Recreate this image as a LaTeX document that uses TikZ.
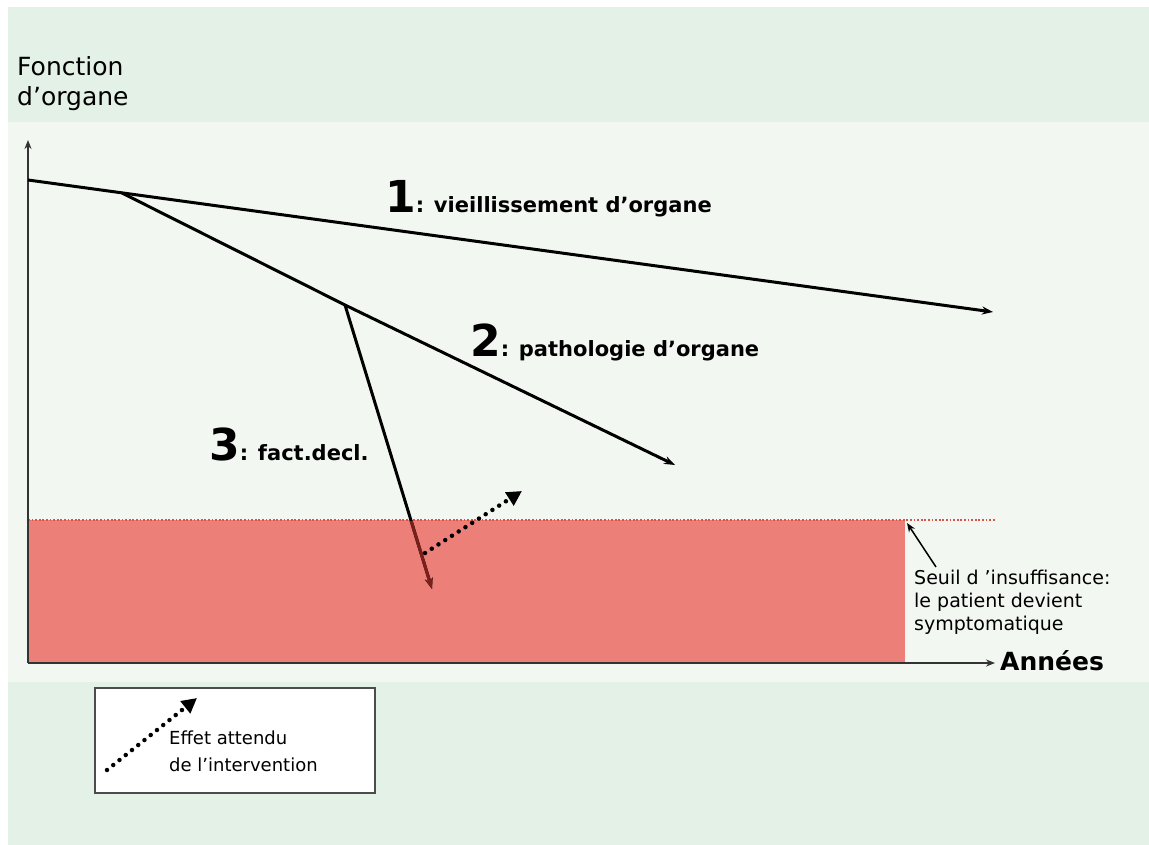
\documentclass[tikz,border=0pt]{standalone}
\usepackage{fontspec}
\setmainfont{DejaVu Sans}
\usetikzlibrary{arrows.meta}
\definecolor{bandgreen}{HTML}{E4F1E6}
\definecolor{panelgreen}{HTML}{F3F7F1}
\definecolor{seuilred}{HTML}{EC8079}
\definecolor{seuildot}{HTML}{D9534B}
\definecolor{darkline}{HTML}{7A1F1A}
\tikzset{
  courbe/.style={line width=3pt,-{Stealth[length=11pt,width=8pt]}},
  axe/.style={line width=1.8pt,draw=black!80,-{Stealth[length=9pt,width=7pt]}},
  effet/.style={line width=4.5pt,line cap=round,dash pattern=on 0pt off 8pt,-{Triangle[length=15pt,width=15pt]}},
  etiquette/.style={font=\fontsize{21}{21}\selectfont\bfseries,anchor=base west,inner sep=0pt},
  texte/.style={align=left,anchor=north west,inner sep=0pt},
}
\newcommand{\chiffre}[1]{{\fontsize{44}{44}\selectfont #1}}
\begin{document}
\begin{tikzpicture}[x=1pt,y=-1pt]
\useasboundingbox (0,0) rectangle (1149,845);
% fond
\fill[white] (0,0) rectangle (1149,845);
\fill[bandgreen] (8,7) rectangle (1149,845);
\fill[panelgreen] (8,122) rectangle (1149,682);
% zone d'insuffisance
\fill[seuilred] (28,520) rectangle (905,663);
\coordinate (s0) at (28,520);
\coordinate (s1) at (995,520);
\draw[seuildot,line width=1.8pt,dash pattern=on 1.8pt off 1.8pt] (s0) -- (s1);

% axes
\coordinate (O) at (28,663);
\coordinate (ytop) at (28,140);
\coordinate (xend) at (995,663);
\draw[axe] (O) -- (ytop);
\draw[axe] (O) -- (xend);

% courbes
\coordinate (a0) at (28,180);
\coordinate (b1) at (122,193);
\coordinate (e1) at (993,312);
\coordinate (b2) at (345,305);
\coordinate (e2) at (675,465);
\coordinate (e3) at (432,589);
\draw[courbe] (b2) -- (e3);
\begin{scope}
  \clip (28,521) rectangle (905,663);
  \draw[courbe,darkline] (b2) -- (e3);
\end{scope}
\draw[courbe] (a0) -- (e1);
\draw[courbe] (b1) -- (b2) -- (e2);

% effet de l'intervention
\coordinate (d0) at (425,553);
\coordinate (d1) at (522,491);
\draw[effet] (d0) -- (d1);

% etiquettes
\node[etiquette] (lab1) at (385,213) {\chiffre{1}: vieillissement d'organe};
\node[etiquette] (lab2) at (470,356) {\chiffre{2}: pathologie d'organe};
\node[etiquette] (lab3) at (209,460) {\chiffre{3}: fact.decl.};

\node[texte,font=\fontsize{25}{30}\selectfont] (yaxe) at (17,56) {Fonction\\d'organe};
\node[etiquette,font=\fontsize{25}{25}\selectfont\bfseries] (xaxe) at (1000,670) {Années};

\node[texte,font=\fontsize{19}{23}\selectfont] (seuil) at (914,570)
  {Seuil d 'insuffisance:\\le patient devient\\symptomatique};
\coordinate (pseuil) at (907,523);
\draw[line width=1.5pt,-{Stealth[length=9pt,width=7pt]}] (936,567) -- (pseuil);

% legende
\node[draw=black!70,fill=white,line width=1.5pt,minimum width=280pt,minimum height=105pt,inner sep=0pt] (leg) at (235,740.5) {};
\coordinate (l0) at (107,770);
\coordinate (l1) at (197,698);
\draw[effet] (l0) -- (l1);
\node[texte,font=\fontsize{18}{27}\selectfont] (legtxt) at (169,731) {Effet attendu\\de l'intervention};
\end{tikzpicture}
\end{document}
